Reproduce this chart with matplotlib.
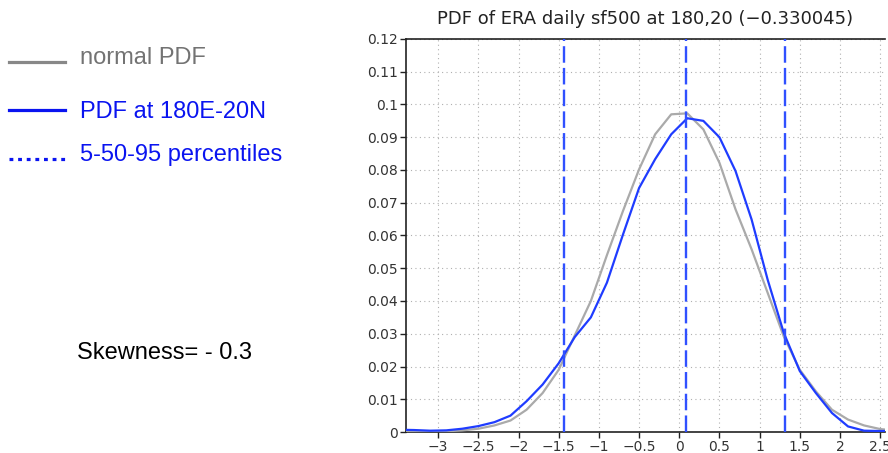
import matplotlib
matplotlib.use("Agg")
import matplotlib.pyplot as plt
from matplotlib.lines import Line2D
from matplotlib.ticker import FixedLocator, FuncFormatter

# ---- data ----
x_vals = [-3.5, -3.3, -3.1, -2.9, -2.7, -2.5, -2.3, -2.1, -1.9, -1.7, -1.5,
          -1.3, -1.1, -0.9, -0.7, -0.5, -0.3, -0.1, 0.1, 0.3, 0.5,
          0.7, 0.9, 1.1, 1.3, 1.5, 1.7, 1.9, 2.1, 2.3, 2.5, 2.7]
normal_pdf = [0.0001, 0.0001, 0.0001, 0.0002, 0.0005, 0.0010, 0.0020, 0.0035, 0.0068, 0.0119, 0.0190,
              0.0295, 0.0400, 0.0540, 0.0675, 0.0802, 0.0909, 0.0970, 0.0973, 0.0924, 0.0822,
              0.0680, 0.0558, 0.0425, 0.0292, 0.0190, 0.0124, 0.0068, 0.0038, 0.0020, 0.0009, 0.0004]
local_pdf = [0.0007, 0.0006, 0.0004, 0.0005, 0.0010, 0.0018, 0.0030, 0.0050, 0.0094, 0.0145, 0.0210,
             0.0290, 0.0350, 0.0456, 0.0603, 0.0745, 0.0833, 0.0909, 0.0958, 0.0950, 0.0900,
             0.0797, 0.0649, 0.0465, 0.0303, 0.0186, 0.0119, 0.0058, 0.0017, 0.0004, 0.0003, 0.0003]
percentiles = [-1.44, 0.08, 1.31]
x_ticks = [-3, -2.5, -2, -1.5, -1, -0.5, 0, 0.5, 1, 1.5, 2, 2.5]
y_ticks = [0, 0.01, 0.02, 0.03, 0.04, 0.05, 0.06, 0.07, 0.08, 0.09, 0.10, 0.11, 0.12]
title = "PDF of ERA daily sf500 at 180,20 (\u22120.330045)"
legend_labels = ["normal PDF", "PDF at 180E-20N", "5-50-95 percentiles"]
skew_text = "Skewness= - 0.3"

W, H = 888, 453
fig = plt.figure(figsize=(W / 100, H / 100), dpi=100)
ax = fig.add_axes([406 / W, 1 - 432 / H, (885 - 406) / W, (432 - 39) / H])

ax.plot(x_vals, normal_pdf, color="#aaaaaa", lw=1.6, zorder=3)
ax.plot(x_vals, local_pdf, color="#1f3cff", lw=1.6, zorder=4)
for p in percentiles:
    ax.axvline(p, color="#3050ff", lw=1.7, linestyle=(0, (7, 2.2)), zorder=5)

ax.set_xlim(-3.4, 2.56)
ax.set_ylim(0, 0.12)
ax.xaxis.set_major_locator(FixedLocator(x_ticks))
ax.yaxis.set_major_locator(FixedLocator(y_ticks))
ax.xaxis.set_major_formatter(FuncFormatter(lambda v, p: f"{v:g}".replace("-", "\u2212")))
ax.yaxis.set_major_formatter(FuncFormatter(lambda v, p: f"{v:g}"))
ax.grid(True, color="#b0b0b0", linestyle=(0, (1, 3)), lw=0.8)
ax.tick_params(direction="out", length=4, width=1, colors="#222222", labelsize=10, pad=2)
ax.tick_params(axis="x", labelcolor="#333333")
ax.tick_params(axis="y", labelcolor="#333333")
for s in ax.spines.values():
    s.set_color("#222222")
    s.set_linewidth(1.2)
ax.spines["right"].set_visible(False)

ax.set_title(title, fontsize=13, color="#222222", pad=11)

# legend drawn on figure
def fx(px):
    return px / W

def fy(py):
    return 1 - py / H

fig.add_artist(Line2D([fx(9), fx(65)], [fy(61.5), fy(61.5)], color="#888888", lw=2.3))
fig.add_artist(Line2D([fx(9), fx(65)], [fy(110), fy(110)], color="#0a14f0", lw=2.3))
fig.add_artist(Line2D([fx(9), fx(65)], [fy(159), fy(159)], color="#0a14f0", lw=2.3,
                      linestyle=(0, (1.2, 1.5))))
fig.text(fx(80), fy(58.5), legend_labels[0], fontsize=17, color="#737373",
         family="Liberation Sans", va="center", ha="left")
fig.text(fx(80), fy(111.5), legend_labels[1], fontsize=17, color="#0a14f0",
         family="Liberation Sans", va="center", ha="left")
fig.text(fx(80), fy(155), legend_labels[2], fontsize=17, color="#0a14f0",
         family="Liberation Sans", va="center", ha="left")
fig.text(fx(77), fy(353), skew_text, fontsize=17, color="black",
         family="Liberation Sans", va="center", ha="left")

fig.savefig("out.png", dpi=100)
